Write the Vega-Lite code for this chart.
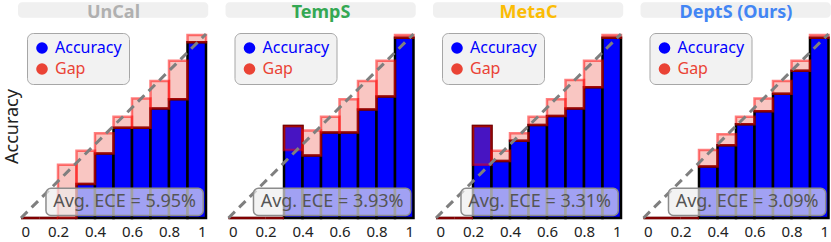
{
"$schema":"https://vega.github.io/schema/vega-lite/v6.json",
"padding":{"left":3,"top":2,"right":0,"bottom":0},
"autosize":{"type":"pad"},
"spacing":22.5,
"bounds":"flush",
"config":{"font":"Noto Sans","view":{"stroke":null},
"axis":{"grid":false,"domain":false,"ticks":false},
"axisX":{"labelFontSize":15,"labelColor":"#222222","labelPadding":6,"labelFlush":true,"labelOverlap":false,"labelOffset":0,"tickCount":10},
"axisY":{"labels":false,"titleFontSize":18,"titleFontWeight":"normal","titleColor":"#222222","titlePadding":0},
"legend":{"title":null,"orient":"none","legendX":6,"legendY":-1,"fillColor":"#f2f2f2","strokeColor":"#a6a6a6","cornerRadius":6,"padding":7,"rowPadding":5,"labelFontSize":16,"labelOffset":5,"symbolType":"circle","symbolSize":135,"symbolOpacity":1,"symbolStrokeWidth":0},
"title":{"fontSize":18,"fontWeight":"bold","anchor":"middle","baseline":"bottom","offset":-20,"frame":"group"}},
"resolve":{"scale":{"color":"independent"},"legend":{"color":"independent"}},
"datasets":{
"ece":[{"panel":"UnCal","label":"Avg. ECE = 5.95%"},{"panel":"TempS","label":"Avg. ECE = 3.93%"},{"panel":"MetaC","label":"Avg. ECE = 3.31%"},{"panel":"DeptS","label":"Avg. ECE = 3.09%"}],
"bins":[
{"panel":"UnCal","lo":0,"hi":0.1,"acc":0,"conf":0},{"panel":"UnCal","lo":0.1,"hi":0.2,"acc":0,"conf":0},{"panel":"UnCal","lo":0.2,"hi":0.3,"acc":0,"conf":0.29},{"panel":"UnCal","lo":0.3,"hi":0.4,"acc":0.185,"conf":0.365},{"panel":"UnCal","lo":0.4,"hi":0.5,"acc":0.35,"conf":0.46},{"panel":"UnCal","lo":0.5,"hi":0.6,"acc":0.49,"conf":0.55},{"panel":"UnCal","lo":0.6,"hi":0.7,"acc":0.49,"conf":0.65},{"panel":"UnCal","lo":0.7,"hi":0.8,"acc":0.595,"conf":0.745},{"panel":"UnCal","lo":0.8,"hi":0.9,"acc":0.645,"conf":0.855},{"panel":"UnCal","lo":0.9,"hi":1.0,"acc":0.955,"conf":0.995},
{"panel":"TempS","lo":0,"hi":0.1,"acc":0,"conf":0},{"panel":"TempS","lo":0.1,"hi":0.2,"acc":0,"conf":0},{"panel":"TempS","lo":0.2,"hi":0.3,"acc":0,"conf":0},{"panel":"TempS","lo":0.3,"hi":0.4,"acc":0.5,"conf":0.37},{"panel":"TempS","lo":0.4,"hi":0.5,"acc":0.34,"conf":0.475},{"panel":"TempS","lo":0.5,"hi":0.6,"acc":0.465,"conf":0.55},{"panel":"TempS","lo":0.6,"hi":0.7,"acc":0.465,"conf":0.645},{"panel":"TempS","lo":0.7,"hi":0.8,"acc":0.59,"conf":0.745},{"panel":"TempS","lo":0.8,"hi":0.9,"acc":0.66,"conf":0.855},{"panel":"TempS","lo":0.9,"hi":1.0,"acc":0.98,"conf":0.995},
{"panel":"MetaC","lo":0,"hi":0.1,"acc":0,"conf":0},{"panel":"MetaC","lo":0.1,"hi":0.2,"acc":0,"conf":0},{"panel":"MetaC","lo":0.2,"hi":0.3,"acc":0.5,"conf":0.29},{"panel":"MetaC","lo":0.3,"hi":0.4,"acc":0.31,"conf":0.365},{"panel":"MetaC","lo":0.4,"hi":0.5,"acc":0.42,"conf":0.46},{"panel":"MetaC","lo":0.5,"hi":0.6,"acc":0.505,"conf":0.55},{"panel":"MetaC","lo":0.6,"hi":0.7,"acc":0.555,"conf":0.645},{"panel":"MetaC","lo":0.7,"hi":0.8,"acc":0.595,"conf":0.75},{"panel":"MetaC","lo":0.8,"hi":0.9,"acc":0.71,"conf":0.855},{"panel":"MetaC","lo":0.9,"hi":1.0,"acc":0.98,"conf":0.995},
{"panel":"DeptS","lo":0,"hi":0.1,"acc":0,"conf":0},{"panel":"DeptS","lo":0.1,"hi":0.2,"acc":0,"conf":0},{"panel":"DeptS","lo":0.2,"hi":0.3,"acc":0,"conf":0},{"panel":"DeptS","lo":0.3,"hi":0.4,"acc":0.28,"conf":0.37},{"panel":"DeptS","lo":0.4,"hi":0.5,"acc":0.395,"conf":0.455},{"panel":"DeptS","lo":0.5,"hi":0.6,"acc":0.51,"conf":0.55},{"panel":"DeptS","lo":0.6,"hi":0.7,"acc":0.58,"conf":0.65},{"panel":"DeptS","lo":0.7,"hi":0.8,"acc":0.675,"conf":0.745},{"panel":"DeptS","lo":0.8,"hi":0.9,"acc":0.8,"conf":0.855},{"panel":"DeptS","lo":0.9,"hi":1.0,"acc":0.98,"conf":0.995}
]},
"hconcat":[
{"width":185,"height":184,"title":{"text":"UnCal","color":"#b0b0b0"},
"layer":[
{"data":{"name":"ece"},"transform":[{"filter":"datum.panel==='UnCal'"}],"mark":{"type":"rect","fill":"#f0f0f0","cornerRadius":4},"encoding":{"x":{"datum":-0.016,"type":"quantitative","scale":{"domain":[0,1],"nice":false},"axis":{"values":[0,0.2,0.4,0.6,0.8,1],"format":"~g","tickCount":10},"title":null},"x2":{"datum":1.012},"y":{"datum":1.173,"type":"quantitative","scale":{"domain":[0,1],"nice":false},"title":"Accuracy"},"y2":{"datum":1.088}}},
{"data":{"name":"bins"},"transform":[{"filter":"datum.panel==='UnCal'"}],"mark":{"type":"rect","stroke":"#000000","strokeWidth":2.5},"encoding":{"x":{"field":"lo","type":"quantitative","title":null,"axis":{"values":[0,0.2,0.4,0.6,0.8,1],"format":"~g","tickCount":10}},"x2":{"field":"hi"},"y":{"field":"acc","type":"quantitative","title":"Accuracy"},"y2":{"datum":0},"color":{"datum":"Accuracy","type":"nominal","scale":{"domain":["Accuracy","Gap"],"range":["#0000ff","#ea4335"]},"legend":{"labelColor":{"expr":"datum.value === 'Accuracy' ? '#0000ff' : '#ea4335'"}}}}},
{"data":{"name":"bins"},"transform":[{"filter":"datum.panel==='UnCal'"}],"mark":{"type":"rect","fillOpacity":0.3,"stroke":"#ff0000","strokeOpacity":0.5,"strokeWidth":2.5},"encoding":{"x":{"field":"lo","type":"quantitative","title":null},"x2":{"field":"hi"},"y":{"field":"acc","type":"quantitative","title":"Accuracy"},"y2":{"field":"conf"},"color":{"datum":"Gap","type":"nominal","scale":{"domain":["Accuracy","Gap"],"range":["#0000ff","#ea4335"]},"legend":{"labelColor":{"expr":"datum.value === 'Accuracy' ? '#0000ff' : '#ea4335'"}}}}},
{"data":{"name":"ece"},"transform":[{"filter":"datum.panel==='UnCal'"}],"mark":{"type":"rule","color":"#7f7f7f","strokeWidth":3,"strokeDash":[9,6]},"encoding":{"x":{"datum":0,"type":"quantitative","title":null},"x2":{"datum":1},"y":{"datum":0,"type":"quantitative","title":"Accuracy"},"y2":{"datum":1}}},
{"data":{"name":"ece"},"transform":[{"filter":"datum.panel==='UnCal'"}],"mark":{"type":"rect","fill":"#eeeeee","fillOpacity":0.68,"stroke":"#8c8c8c","strokeWidth":1.5,"cornerRadius":5},"encoding":{"x":{"datum":0.135,"type":"quantitative","title":null},"x2":{"datum":0.985},"y":{"datum":0.014,"type":"quantitative","title":"Accuracy"},"y2":{"datum":0.162}}},
{"data":{"name":"ece"},"transform":[{"filter":"datum.panel==='UnCal'"}],"mark":{"type":"text","fontSize":18,"color":"#555555","align":"center","baseline":"middle"},"encoding":{"x":{"datum":0.56,"type":"quantitative","title":null},"y":{"datum":0.088,"type":"quantitative","title":"Accuracy"},"text":{"field":"label"}}}
]},
{"width":185,"height":184,"title":{"text":"TempS","color":"#34a853"},
"layer":[
{"data":{"name":"ece"},"transform":[{"filter":"datum.panel==='TempS'"}],"mark":{"type":"rect","fill":"#f0f0f0","cornerRadius":4},"encoding":{"x":{"datum":-0.016,"type":"quantitative","scale":{"domain":[0,1],"nice":false},"axis":{"values":[0,0.2,0.4,0.6,0.8,1],"format":"~g","tickCount":10},"title":null},"x2":{"datum":1.012},"y":{"datum":1.173,"type":"quantitative","scale":{"domain":[0,1],"nice":false},"axis":null},"y2":{"datum":1.088}}},
{"data":{"name":"bins"},"transform":[{"filter":"datum.panel==='TempS'"}],"mark":{"type":"rect","stroke":"#000000","strokeWidth":2.5},"encoding":{"x":{"field":"lo","type":"quantitative","title":null,"axis":{"values":[0,0.2,0.4,0.6,0.8,1],"format":"~g","tickCount":10}},"x2":{"field":"hi"},"y":{"field":"acc","type":"quantitative","axis":null},"y2":{"datum":0},"color":{"datum":"Accuracy","type":"nominal","scale":{"domain":["Accuracy","Gap"],"range":["#0000ff","#ea4335"]},"legend":{"labelColor":{"expr":"datum.value === 'Accuracy' ? '#0000ff' : '#ea4335'"}}}}},
{"data":{"name":"bins"},"transform":[{"filter":"datum.panel==='TempS'"}],"mark":{"type":"rect","fillOpacity":0.3,"stroke":"#ff0000","strokeOpacity":0.5,"strokeWidth":2.5},"encoding":{"x":{"field":"lo","type":"quantitative","title":null},"x2":{"field":"hi"},"y":{"field":"acc","type":"quantitative","axis":null},"y2":{"field":"conf"},"color":{"datum":"Gap","type":"nominal","scale":{"domain":["Accuracy","Gap"],"range":["#0000ff","#ea4335"]},"legend":{"labelColor":{"expr":"datum.value === 'Accuracy' ? '#0000ff' : '#ea4335'"}}}}},
{"data":{"name":"ece"},"transform":[{"filter":"datum.panel==='TempS'"}],"mark":{"type":"rule","color":"#7f7f7f","strokeWidth":3,"strokeDash":[9,6]},"encoding":{"x":{"datum":0,"type":"quantitative","title":null},"x2":{"datum":1},"y":{"datum":0,"type":"quantitative","axis":null},"y2":{"datum":1}}},
{"data":{"name":"ece"},"transform":[{"filter":"datum.panel==='TempS'"}],"mark":{"type":"rect","fill":"#eeeeee","fillOpacity":0.68,"stroke":"#8c8c8c","strokeWidth":1.5,"cornerRadius":5},"encoding":{"x":{"datum":0.135,"type":"quantitative","title":null},"x2":{"datum":0.985},"y":{"datum":0.014,"type":"quantitative","axis":null},"y2":{"datum":0.162}}},
{"data":{"name":"ece"},"transform":[{"filter":"datum.panel==='TempS'"}],"mark":{"type":"text","fontSize":18,"color":"#555555","align":"center","baseline":"middle"},"encoding":{"x":{"datum":0.56,"type":"quantitative","title":null},"y":{"datum":0.088,"type":"quantitative","axis":null},"text":{"field":"label"}}}
]},
{"width":185,"height":184,"title":{"text":"MetaC","color":"#fbbc05"},
"layer":[
{"data":{"name":"ece"},"transform":[{"filter":"datum.panel==='MetaC'"}],"mark":{"type":"rect","fill":"#f0f0f0","cornerRadius":4},"encoding":{"x":{"datum":-0.016,"type":"quantitative","scale":{"domain":[0,1],"nice":false},"axis":{"values":[0,0.2,0.4,0.6,0.8,1],"format":"~g","tickCount":10},"title":null},"x2":{"datum":1.012},"y":{"datum":1.173,"type":"quantitative","scale":{"domain":[0,1],"nice":false},"axis":null},"y2":{"datum":1.088}}},
{"data":{"name":"bins"},"transform":[{"filter":"datum.panel==='MetaC'"}],"mark":{"type":"rect","stroke":"#000000","strokeWidth":2.5},"encoding":{"x":{"field":"lo","type":"quantitative","title":null,"axis":{"values":[0,0.2,0.4,0.6,0.8,1],"format":"~g","tickCount":10}},"x2":{"field":"hi"},"y":{"field":"acc","type":"quantitative","axis":null},"y2":{"datum":0},"color":{"datum":"Accuracy","type":"nominal","scale":{"domain":["Accuracy","Gap"],"range":["#0000ff","#ea4335"]},"legend":{"labelColor":{"expr":"datum.value === 'Accuracy' ? '#0000ff' : '#ea4335'"}}}}},
{"data":{"name":"bins"},"transform":[{"filter":"datum.panel==='MetaC'"}],"mark":{"type":"rect","fillOpacity":0.3,"stroke":"#ff0000","strokeOpacity":0.5,"strokeWidth":2.5},"encoding":{"x":{"field":"lo","type":"quantitative","title":null},"x2":{"field":"hi"},"y":{"field":"acc","type":"quantitative","axis":null},"y2":{"field":"conf"},"color":{"datum":"Gap","type":"nominal","scale":{"domain":["Accuracy","Gap"],"range":["#0000ff","#ea4335"]},"legend":{"labelColor":{"expr":"datum.value === 'Accuracy' ? '#0000ff' : '#ea4335'"}}}}},
{"data":{"name":"ece"},"transform":[{"filter":"datum.panel==='MetaC'"}],"mark":{"type":"rule","color":"#7f7f7f","strokeWidth":3,"strokeDash":[9,6]},"encoding":{"x":{"datum":0,"type":"quantitative","title":null},"x2":{"datum":1},"y":{"datum":0,"type":"quantitative","axis":null},"y2":{"datum":1}}},
{"data":{"name":"ece"},"transform":[{"filter":"datum.panel==='MetaC'"}],"mark":{"type":"rect","fill":"#eeeeee","fillOpacity":0.68,"stroke":"#8c8c8c","strokeWidth":1.5,"cornerRadius":5},"encoding":{"x":{"datum":0.135,"type":"quantitative","title":null},"x2":{"datum":0.985},"y":{"datum":0.014,"type":"quantitative","axis":null},"y2":{"datum":0.162}}},
{"data":{"name":"ece"},"transform":[{"filter":"datum.panel==='MetaC'"}],"mark":{"type":"text","fontSize":18,"color":"#555555","align":"center","baseline":"middle"},"encoding":{"x":{"datum":0.56,"type":"quantitative","title":null},"y":{"datum":0.088,"type":"quantitative","axis":null},"text":{"field":"label"}}}
]},
{"width":185,"height":184,"title":{"text":"DeptS (Ours)","color":"#4285f4"},
"layer":[
{"data":{"name":"ece"},"transform":[{"filter":"datum.panel==='DeptS'"}],"mark":{"type":"rect","fill":"#f0f0f0","cornerRadius":4},"encoding":{"x":{"datum":-0.016,"type":"quantitative","scale":{"domain":[0,1],"nice":false},"axis":{"values":[0,0.2,0.4,0.6,0.8,1],"format":"~g","tickCount":10},"title":null},"x2":{"datum":1.012},"y":{"datum":1.173,"type":"quantitative","scale":{"domain":[0,1],"nice":false},"axis":null},"y2":{"datum":1.088}}},
{"data":{"name":"bins"},"transform":[{"filter":"datum.panel==='DeptS'"}],"mark":{"type":"rect","stroke":"#000000","strokeWidth":2.5},"encoding":{"x":{"field":"lo","type":"quantitative","title":null,"axis":{"values":[0,0.2,0.4,0.6,0.8,1],"format":"~g","tickCount":10}},"x2":{"field":"hi"},"y":{"field":"acc","type":"quantitative","axis":null},"y2":{"datum":0},"color":{"datum":"Accuracy","type":"nominal","scale":{"domain":["Accuracy","Gap"],"range":["#0000ff","#ea4335"]},"legend":{"labelColor":{"expr":"datum.value === 'Accuracy' ? '#0000ff' : '#ea4335'"}}}}},
{"data":{"name":"bins"},"transform":[{"filter":"datum.panel==='DeptS'"}],"mark":{"type":"rect","fillOpacity":0.3,"stroke":"#ff0000","strokeOpacity":0.5,"strokeWidth":2.5},"encoding":{"x":{"field":"lo","type":"quantitative","title":null},"x2":{"field":"hi"},"y":{"field":"acc","type":"quantitative","axis":null},"y2":{"field":"conf"},"color":{"datum":"Gap","type":"nominal","scale":{"domain":["Accuracy","Gap"],"range":["#0000ff","#ea4335"]},"legend":{"labelColor":{"expr":"datum.value === 'Accuracy' ? '#0000ff' : '#ea4335'"}}}}},
{"data":{"name":"ece"},"transform":[{"filter":"datum.panel==='DeptS'"}],"mark":{"type":"rule","color":"#7f7f7f","strokeWidth":3,"strokeDash":[9,6]},"encoding":{"x":{"datum":0,"type":"quantitative","title":null},"x2":{"datum":1},"y":{"datum":0,"type":"quantitative","axis":null},"y2":{"datum":1}}},
{"data":{"name":"ece"},"transform":[{"filter":"datum.panel==='DeptS'"}],"mark":{"type":"rect","fill":"#eeeeee","fillOpacity":0.68,"stroke":"#8c8c8c","strokeWidth":1.5,"cornerRadius":5},"encoding":{"x":{"datum":0.135,"type":"quantitative","title":null},"x2":{"datum":0.985},"y":{"datum":0.014,"type":"quantitative","axis":null},"y2":{"datum":0.162}}},
{"data":{"name":"ece"},"transform":[{"filter":"datum.panel==='DeptS'"}],"mark":{"type":"text","fontSize":18,"color":"#555555","align":"center","baseline":"middle"},"encoding":{"x":{"datum":0.56,"type":"quantitative","title":null},"y":{"datum":0.088,"type":"quantitative","axis":null},"text":{"field":"label"}}}
]}
]
}
